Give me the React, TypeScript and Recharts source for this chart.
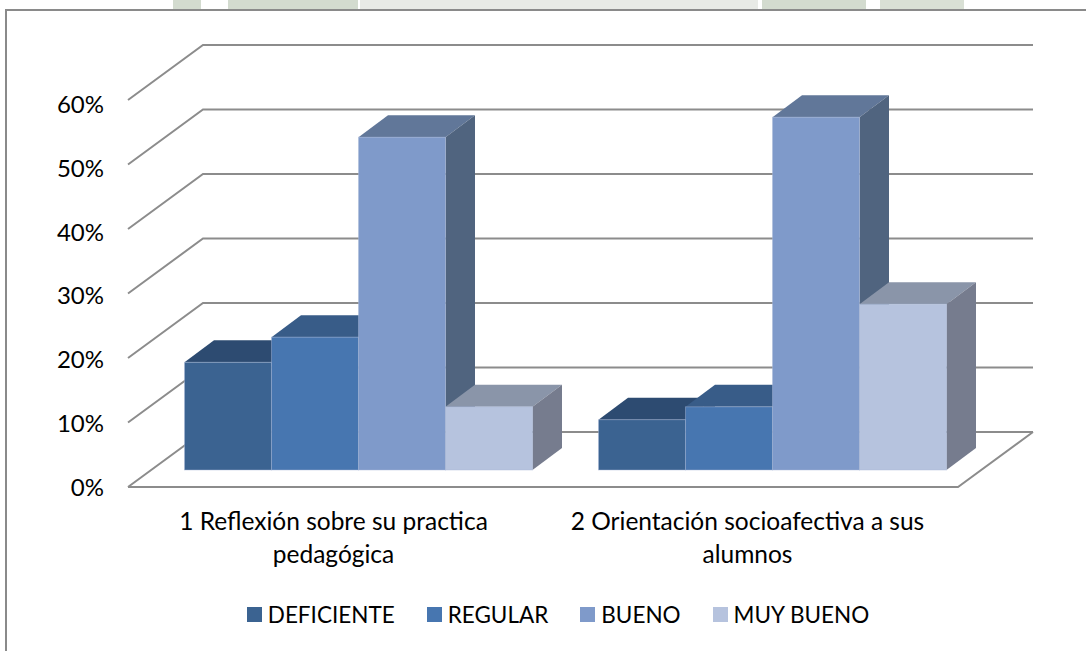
import { BarChart, Bar, XAxis, YAxis, CartesianGrid, Legend } from "recharts";

const categories = ["1 Reflexión sobre su practica pedagógica", "2 Orientación socioafectiva a sus alumnos"];
const seriesNames = ["DEFICIENTE", "REGULAR", "BUENO", "MUY BUENO"];
const deficiente = [16.7, 7.8];
const regular = [20.6, 9.8];
const bueno = [51.6, 54.7];
const muyBueno = [9.8, 25.7];
const yTicks = [0, 10, 20, 30, 40, 50, 60];
const categoryLines: Record<string, string[]> = {
  [categories[0]]: ["1 Reflexión sobre su practica", "pedagógica"],
  [categories[1]]: ["2 Orientación socioafectiva a sus", "alumnos"],
};

const data = categories.map((name, i) => ({
  name,
  DEFICIENTE: deficiente[i],
  REGULAR: regular[i],
  BUENO: bueno[i],
  "MUY BUENO": muyBueno[i],
}));

const FONT = "Lato, sans-serif";
const DX = 29.5;
const DY = 22;

// front, top and side colours of each box
const SHADES: Record<string, string[]> = {
  DEFICIENTE: ["#3b6391", "#2d4b71", "#2d4b71"],
  REGULAR: ["#4776b0", "#385c88", "#385c88"],
  BUENO: ["#7f9aca", "#617799", "#50647f"],
  "MUY BUENO": ["#b6c3de", "#8a95a9", "#767c8e"],
};

// bits of the photo background that show above the frame
const WATERMARK = [
  { left: 173, width: 28, color: "#d3dbcf" },
  { left: 228, width: 130, color: "#d3dbcf" },
  { left: 360, width: 398, color: "#e8eae6" },
  { left: 762, width: 104, color: "#d3dbcf" },
  { left: 880, width: 84, color: "#d9e0d5" },
];

const Box3D = (props: any) => {
  const { x, y, width, height, dataKey } = props;
  const [front, top, side] = SHADES[dataKey];
  const r = x + width;
  const b = y + height;
  return (
    <g>
      <polygon points={`${x},${y} ${x + DX},${y - DY} ${r + DX},${y - DY} ${r},${y}`} fill={top} />
      <polygon points={`${r},${y} ${r + DX},${y - DY} ${r + DX},${b - DY} ${r},${b}`} fill={side} />
      <rect x={x} y={y} width={width} height={height} fill={front} stroke="#a9b9d6" strokeOpacity={0.45} strokeWidth={1} />
    </g>
  );
};

// wall line for each tick: slanted on the left side, flat along the back
const WallLine = (props: any) => {
  const { x1, x2, y1, index } = props;
  const backY = y1 - 38;
  const isFloor = index === 0;
  return (
    <g key={props.key} fill="none" stroke="#8c8c8c" strokeWidth={2}>
      <polyline points={`${x1 - 24},${y1 + 17} ${x1 + 51},${backY} ${x2 + 53},${backY}`} />
      {isFloor && <polyline points={`${x1 - 24},${y1 + 17} ${x2 - 22},${y1 + 17} ${x2 + 53},${backY}`} />}
    </g>
  );
};

const YTick = ({ x, y, payload }: any) => (
  <text x={x - 40} y={y + 25.5 + payload.value * 0.075} textAnchor="end" fontFamily={FONT} fontSize={24} fill="#000">
    {payload.value}%
  </text>
);

const XTick = ({ x, y, payload }: any) => (
  <text textAnchor="middle" fontFamily={FONT} fontSize={24.5} fill="#000">
    {categoryLines[payload.value].map((line, i) => (
      <tspan key={i} x={x - 25.5} y={y + 52 + i * 33}>
        {line}
      </tspan>
    ))}
  </text>
);

const LegendRow = ({ payload = [] }: any) => {
  const items = seriesNames.map((name) => payload.find((p: any) => p.value === name)).filter(Boolean);
  return (
    <div style={{ display: "flex", justifyContent: "center", gap: 32, fontFamily: FONT, fontSize: 22.5, color: "#000" }}>
      {items.map((item: any) => (
        <span key={item.value} style={{ display: "flex", alignItems: "center", gap: 6 }}>
          <span style={{ width: 15, height: 15, background: item.color, display: "inline-block" }} />
          {item.value}
        </span>
      ))}
    </div>
  );
};

export default function App() {
  return (
    <div style={{ position: "absolute", left: 0, top: 0, width: 1086, height: 651, background: "#fff", overflow: "hidden" }}>
      {WATERMARK.map((w) => (
        <div key={w.left} style={{ position: "absolute", left: w.left, top: 0, width: w.width, height: 9, background: w.color }} />
      ))}
      <div style={{ position: "absolute", left: 5, top: 9, width: 1100, height: 660, border: "2px solid #8a8a8a" }} />
      <div style={{ position: "absolute", left: 0, top: 0 }}>
        <BarChart
          width={1086}
          height={651}
          data={data}
          barGap={0}
          barCategoryGap={32.5}
          margin={{ top: 83, right: 106, bottom: 141, left: 92 }}
        >
          <CartesianGrid vertical={false} horizontal={WallLine as any} />
          <XAxis dataKey="name" height={40} axisLine={false} tickLine={false} tick={XTick} interval={0} />
          <YAxis domain={[0, 60]} ticks={yTicks} width={60} axisLine={false} tickLine={false} tick={YTick} />
          <Legend
            verticalAlign="middle"
            content={LegendRow}
            wrapperStyle={{ position: "absolute", top: 601, left: 0, width: 1116, height: 30 }}
          />
          <Bar dataKey="DEFICIENTE" fill={SHADES.DEFICIENTE[0]} shape={Box3D} isAnimationActive={false} />
          <Bar dataKey="REGULAR" fill={SHADES.REGULAR[0]} shape={Box3D} isAnimationActive={false} />
          <Bar dataKey="BUENO" fill={SHADES.BUENO[0]} shape={Box3D} isAnimationActive={false} />
          <Bar dataKey="MUY BUENO" fill={SHADES["MUY BUENO"][0]} shape={Box3D} isAnimationActive={false} />
        </BarChart>
      </div>
    </div>
  );
}
